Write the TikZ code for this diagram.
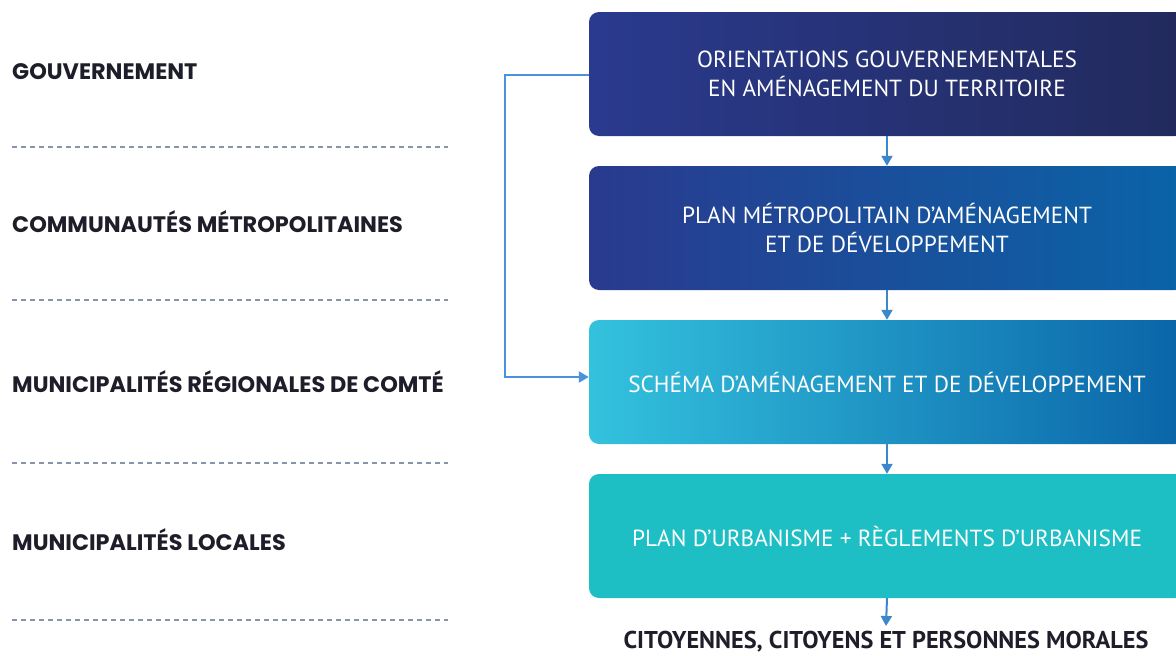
\documentclass[tikz,border=0pt]{standalone}
\usepackage{fontspec}
\usetikzlibrary{arrows.meta}
\newfontfamily\boxfont{PT Sans}
\newfontfamily\labfont{Poppins}[UprightFont=* SemiBold,BoldFont=* Bold]
\definecolor{navyA}{HTML}{2A3A8E}
\definecolor{navyB}{HTML}{222A5C}
\definecolor{blueB}{HTML}{0A64A8}
\definecolor{cyanA}{HTML}{33C2DE}
\definecolor{tealA}{HTML}{1EBFC4}
\definecolor{arrowc}{HTML}{3A87CC}
\definecolor{linkc}{HTML}{4A93DA}
\definecolor{dashc}{HTML}{8A93AE}
\definecolor{labc}{HTML}{1E1E2A}
\tikzset{
  box/.style={rectangle, rounded corners=10pt, minimum width=596pt, minimum height=124pt,
    inner sep=0pt, text=white, align=center, font=\boxfont\fontsize{23.3}{29}\selectfont},
  lab/.style={anchor=west, inner sep=0pt, text=labc, font=\labfont\bfseries\fontsize{22.4}{24}\selectfont},
  sep/.style={dashc, line width=1.6pt, dash pattern=on 5pt off 4pt},
  flow/.style={arrowc, line width=2pt, -{Triangle[width=11pt,length=10pt]}},
  link/.style={linkc, line width=2pt, -{Triangle[width=11pt,length=10pt]}}
}
\begin{document}
\begin{tikzpicture}[x=1pt,y=-1pt]
\clip (0,0) rectangle (1176,656);
\fill[white] (0,0) rectangle (1176,656);
\node[box, left color=navyA, right color=navyB] (b1) at (887,74) {ORIENTATIONS GOUVERNEMENTALES\\EN AMÉNAGEMENT DU TERRITOIRE};
\node[box, left color=navyA, right color=blueB] (b2) at (887,228) {PLAN MÉTROPOLITAIN D’AMÉNAGEMENT\\ET DE DÉVELOPPEMENT};
\node[box, left color=cyanA, right color=blueB] (b3) at (887,382) {SCHÉMA D’AMÉNAGEMENT ET DE DÉVELOPPEMENT};
\node[box, fill=tealA] (b4) at (887,536) {PLAN D’URBANISME + RÈGLEMENTS D’URBANISME};
\node[inner sep=0pt, text=labc, font=\boxfont\bfseries\fontsize{24.3}{26}\selectfont] (cit) at (886,642) {CITOYENNES, CITOYENS ET PERSONNES MORALES};
\node[lab] (l1) at (12,72) {GOUVERNEMENT};
\node[lab] (l2) at (12,222) {COMMUNAUTÉS MÉTROPOLITAINES};
\node[lab] (l3) at (12,382) {MUNICIPALITÉS RÉGIONALES DE COMTÉ};
\node[lab] (l4) at (12,540) {MUNICIPALITÉS LOCALES};
\foreach \y/\n in {147/d1,300/d2,463/d3,620/d4}{
  \coordinate (\n a) at (12,\y); \coordinate (\n b) at (448,\y);
  \draw[sep] (\n a) -- (\n b);
}
\coordinate (tip) at (886,626);
\draw[flow] (b1.south) -- (b2.north);
\draw[flow] (b2.south) -- (b3.north);
\draw[flow] (b3.south) -- (b4.north);
\draw[flow] (b4.south) -- (tip);
\coordinate (k1) at (505,75);
\coordinate (k2) at (505,377);
\draw[link] (b1.west |- k1) -- (k1) -- (k2) -- (b3.west |- k2);
\end{tikzpicture}
\end{document}
